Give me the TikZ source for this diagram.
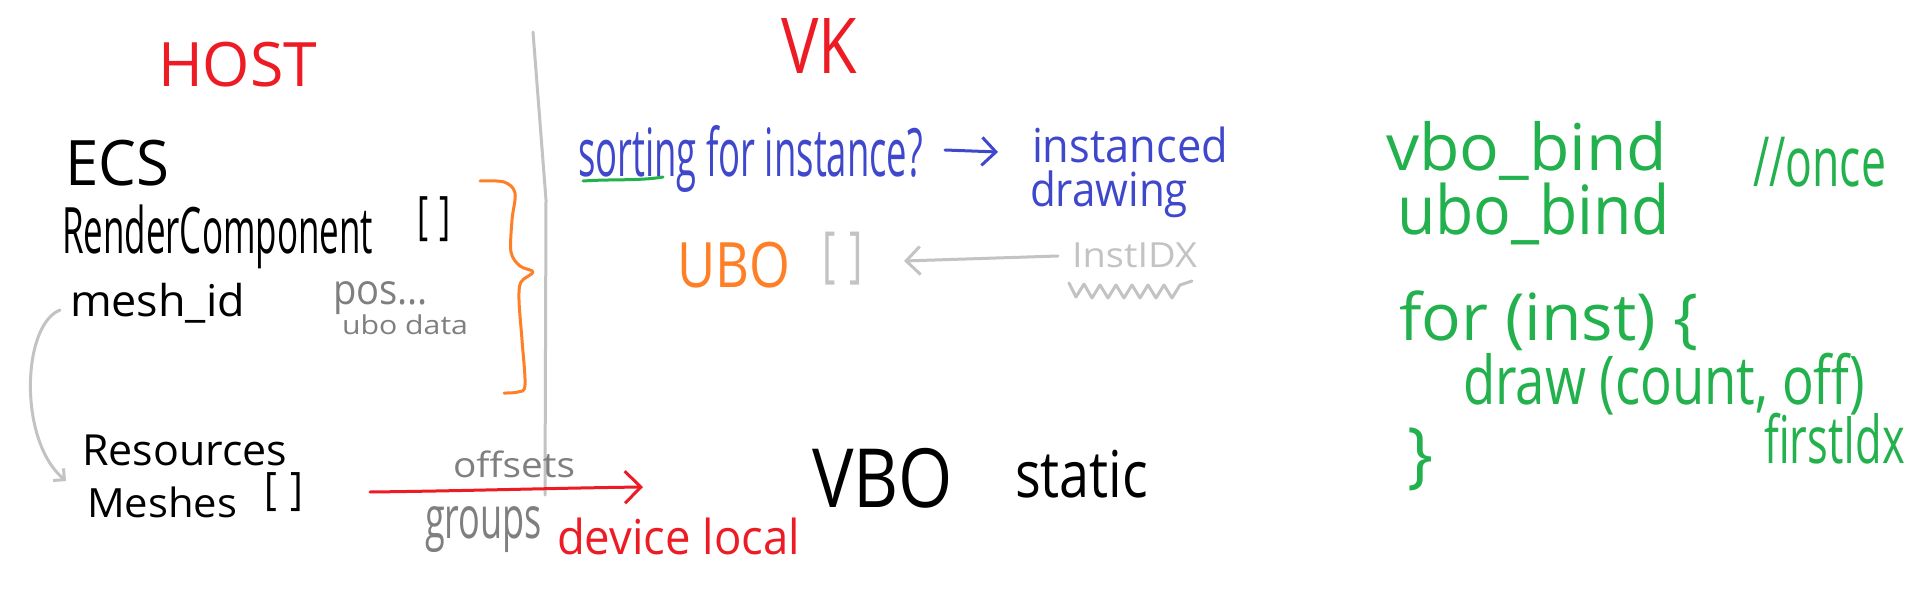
\documentclass[tikz,border=0pt]{standalone}
\usepackage{fontspec}
\setmainfont{Open Sans}
\usepackage{graphicx}
\usetikzlibrary{arrows.meta}
\definecolor{pred}{HTML}{ED1C24}
\definecolor{pblue}{HTML}{3F48CC}
\definecolor{pgreen}{HTML}{22B14C}
\definecolor{porange}{HTML}{FF7F27}
\definecolor{pgray}{HTML}{7F7F7F}
\definecolor{plight}{HTML}{C3C3C3}
\newcommand{\fitbox}[3]{\resizebox*{#1pt}{#2pt}{#3}}
\tikzset{
  hand/.style={inner sep=0pt, outer sep=0pt, anchor=north west},
  pen/.style={line width=3pt, line cap=round, line join=round},
  barb/.style={-{Straight Barb[length=#1, width=2*#1, line width=3pt]}},
}
\begin{document}
\begin{tikzpicture}[x=1pt,y=-1pt]
\fill[white] (0,0) rectangle (1914,599);
\useasboundingbox (0,0) rectangle (1914,599);

% headings
\node[hand,text=pred] (host) at (158,42) {\fitbox{159}{45}{HOST}};
\node[hand,text=pred] (vk) at (781,18) {\fitbox{76}{55}{VK}};

% divider
\draw[pen,plight] (533,32) -- (546,200) -- (545,495);

% host side
\node[hand] (ecs) at (65,140) {\fitbox{104}{46}{ECS}};
\node[hand] (rc) at (62,205) {\fitbox{311}{64}{RenderComponent}};
\node[hand] (rcbr) at (417,197) {\fitbox{34}{45}{[\hspace{0.35em}]}};
\node[hand] (mesh) at (70,283) {\fitbox{175}{40}{mesh\_id}};
\node[hand,text=pgray] (pos) at (333,282) {\fitbox{95}{33}{pos...}};
\node[hand,text=pgray] (ubod) at (342,315) {\fitbox{126}{20}{ubo data}};
\node[hand] (res) at (82,435) {\fitbox{205}{31}{Resources}};
\node[hand] (meshes) at (87,487) {\fitbox{150}{31}{Meshes}};
\node[hand] (meshbr) at (264,473) {\fitbox{39}{39}{[\hspace{0.35em}]}};

% orange brace
\draw[pen,porange] plot[smooth, tension=0.55] coordinates {(480,181) (504,182) (515,193) (512,220) (511,252) (520,266) (533,272) (521,282) (519,300) (522,340) (525,385) (518,392) (504,393)};

% mesh_id -> Resources
\coordinate (cstart) at (60,310);
\coordinate (cend) at (66,481);
\draw[pen,plight,barb=8pt] (cstart) .. controls (22,325) and (18,440) .. (cend);

% transfer
\node[hand,text=pgray] (offs) at (453,451) {\fitbox{122}{27}{offsets}};
\node[hand,text=pgray] (groups) at (425,507) {\fitbox{117}{46}{groups}};
\coordinate (rstart) at (370,492);
\coordinate (rend) at (643,487);
\draw[pen,pred,barb=16pt] (rstart) .. controls (460,491) and (560,488) .. (rend);
\node[hand,text=pred] (devl) at (557,518) {\fitbox{243}{37}{device local}};
\node[hand] (vbo) at (812,448) {\fitbox{141}{60}{VBO}};
\node[hand] (static) at (1015,450) {\fitbox{133}{48}{static}};

% VK side
\node[hand,text=pblue] (sort) at (578,125) {\fitbox{345}{67}{sorting for instance?}};
\draw[pen,pgreen] (583,181) .. controls (610,179) and (640,181) .. (663,177);
\coordinate (bstart) at (945,150);
\coordinate (bend) at (998,152);
\draw[pen,pblue,barb=14pt] (bstart) -- (bend);
\node[hand,text=pblue] (inst) at (1032,127) {\fitbox{196}{36}{instanced}};
\node[hand,text=pblue] (drawing) at (1030,171) {\fitbox{158}{47}{drawing}};

\node[hand,text=porange] (ubo) at (677,242) {\fitbox{113}{46}{UBO}};
\node[hand,text=plight] (ubobr) at (822,232) {\fitbox{41}{53}{[\hspace{0.35em}]}};
\node[hand,text=plight] (idx) at (1072,243) {\fitbox{125}{25}{InstIDX}};
\coordinate (gstart) at (1058,256);
\coordinate (gend) at (904,261);
\draw[pen,plight,barb=14pt] (gstart) -- (gend);
\draw[pen,plight] (1069,283) -- (1076,297) -- (1084,284) -- (1092,298) -- (1100,285) -- (1108,298) -- (1116,285) -- (1124,298) -- (1132,285) -- (1140,298) -- (1148,285) -- (1156,298) -- (1164,285) -- (1172,298) -- (1180,285) -- (1192,281);

% green code
\node[hand,text=pgreen] (vbob) at (1386,121) {\fitbox{281}{59}{vbo\_bind}};
\node[hand,text=pgreen] (once) at (1753,137) {\fitbox{133}{50}{//once}};
\node[hand,text=pgreen] (ubob) at (1397,183) {\fitbox{273}{62}{ubo\_bind}};
\node[hand,text=pgreen] (forl) at (1399,291) {\fitbox{299}{60}{for (inst) \{}};
\node[hand,text=pgreen] (drawc) at (1463,353) {\fitbox{402}{62}{draw (count, off)}};
\node[hand,text=pgreen] (first) at (1764,413) {\fitbox{141}{51}{firstIdx}};
\node[hand,text=pgreen] (close) at (1407,428) {\fitbox{26}{63}{\}}};
\end{tikzpicture}
\end{document}
